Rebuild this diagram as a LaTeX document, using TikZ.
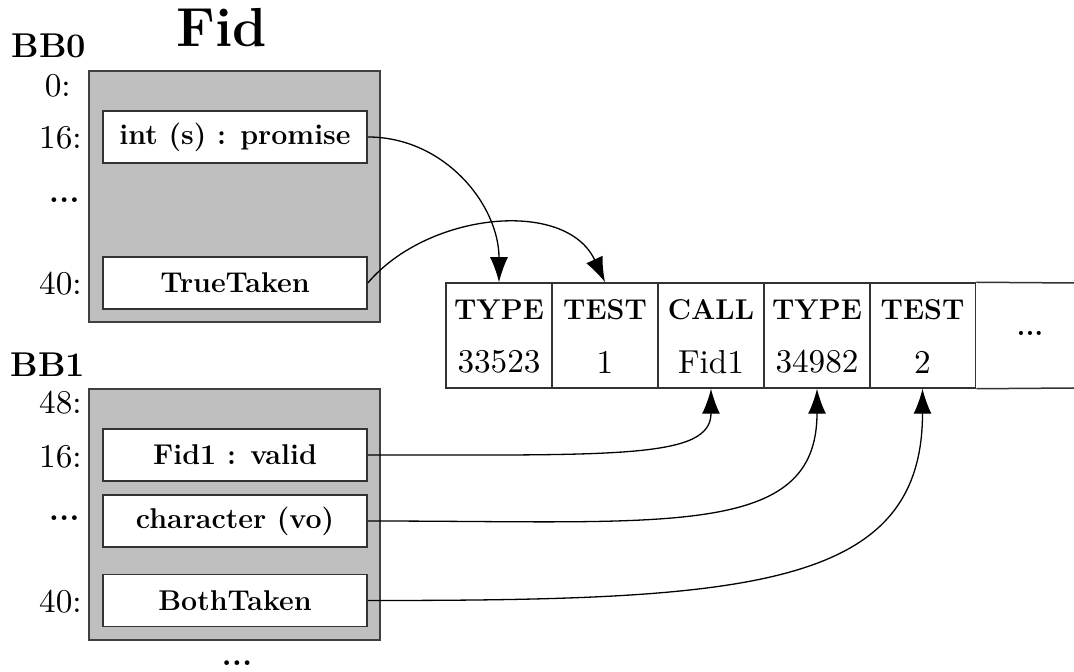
\documentclass[tikz,border=0pt]{standalone}
\usetikzlibrary{arrows.meta}
% regular text set in the 10pt design size and enlarged, for heavier strokes
\newcommand{\bigreg}[1]{\scalebox{1.66}{\fontsize{10}{12}\selectfont #1}}
\begin{document}
\begin{tikzpicture}[x=0.5pt,y=-0.5pt,
  blockbox/.style={draw=black!75,line width=1pt,fill=black!25,minimum width=145.5pt,minimum height=125.5pt,inner sep=0pt},
  slot/.style={draw=black!80,line width=0.8pt,fill=white,minimum width=132pt,minimum height=26pt,inner sep=0pt,font=\fontsize{14.3}{16}\selectfont\bfseries},
  cell/.style={draw=black!80,line width=0.75pt,minimum width=53pt,minimum height=52.5pt,inner sep=0pt},
  tableline/.style={draw=black!80,line width=0.75pt},
  head/.style={inner sep=0pt,font=\fontsize{14.3}{16}\selectfont\bfseries},
  val/.style={inner sep=0pt},
  offs/.style={inner sep=0pt,anchor=east},
  boldoffs/.style={inner sep=0pt,anchor=east,font=\fontsize{16.4}{19}\selectfont\bfseries},
  title/.style={inner sep=0pt,font=\fontsize{17.2}{20}\selectfont\bfseries},
  link/.style={line width=0.65pt,-{Latex[length=12.5pt,width=9pt]}}]

\useasboundingbox (0,0) rectangle (1074,672);

% function name and block labels
\node[inner sep=0pt,font=\fontsize{27.5}{32}\selectfont\bfseries] (fid) at (222,28) {Fid};
\node[title] (bbz) at (49,46) {BB0};
\node[title] (bbo) at (48,365) {BB1};

% basic block 0
\node[blockbox] (blk0) at (234.5,196.5) {};
\node[slot] (ip) at (235,137) {int (s) : promise};
\node[slot] (tt) at (235,283) {TrueTaken};
\node[offs] (o0) at (71,86) {\bigreg{0:}};
\node[offs] (o16a) at (82,138) {\bigreg{16:}};
\node[boldoffs] (odota) at (80,200) {...};
\node[offs] (o40a) at (82,284) {\bigreg{40:}};

% basic block 1
\node[blockbox] (blk1) at (234.5,514.5) {};
\node[slot] (f1) at (235,455) {Fid1 : valid};
\node[slot] (ch) at (235,521) {character (vo)};
\node[slot] (bt) at (235,600.5) {BothTaken};
\node[offs] (o48) at (82,403) {\bigreg{48:}};
\node[offs] (o16b) at (82,457) {\bigreg{16:}};
\node[boldoffs] (odotb) at (80,518) {...};
\node[offs] (o40b) at (82,602) {\bigreg{40:}};
\node[inner sep=0pt,font=\fontsize{16.4}{19}\selectfont\bfseries] (more) at (237,663) {...};

% feedback table
\node[cell] (c1) at (499,335.5) {};
\node[cell] (c2) at (605,335.5) {};
\node[cell] (c3) at (711,335.5) {};
\node[cell] (c4) at (817,335.5) {};
\node[cell] (c5) at (922.5,335.5) {};
\coordinate (tr) at (1074,283);
\coordinate (br) at (1074,388);
\draw[tableline] (c5.north east) -- (tr);
\draw[tableline] (c5.south east) -- (br);

\node[head] at (499,310) {TYPE};
\node[head] at (605,310) {TEST};
\node[head] at (711,310) {CALL};
\node[head] at (817,310) {TYPE};
\node[head] at (922.5,310) {TEST};
\node[val] at (499,362) {\bigreg{33523}};
\node[val] at (605,362) {\bigreg{1}};
\node[val] at (711,362) {\bigreg{Fid1}};
\node[val] at (817,362) {\bigreg{34982}};
\node[val] at (922.5,362) {\bigreg{2}};
\node[head] (tdots) at (1030,333) {...};

% links from instructions to feedback slots
\draw[link] (ip.east) .. controls +(77,0) and +(0,-77) .. (c1.north);
\draw[link] (tt.east) .. controls +(60,-71) and +(-39,-84) .. (c2.north);
\draw[link] (f1.east) .. controls +(250,0) and +(0,70) .. (c3.south);
\draw[link] (ch.east) .. controls +(300,0) and +(0,150) .. (c4.south);
\draw[link] (bt.east) .. controls +(380,0) and +(0,200) .. (c5.south);
\end{tikzpicture}
\end{document}
